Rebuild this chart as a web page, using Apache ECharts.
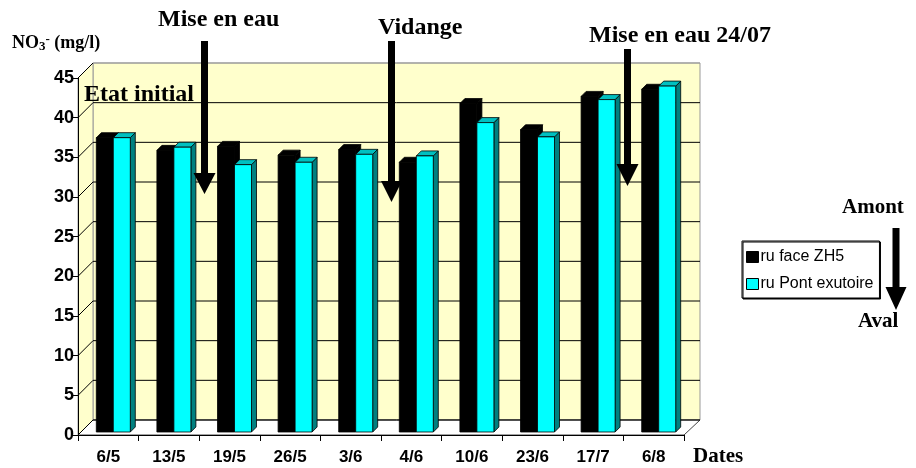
<!DOCTYPE html>
<html>
<head>
<meta charset="utf-8">
<script src="https://cdn.jsdelivr.net/npm/echarts@6/dist/echarts.min.js"></script>
<style>
  html, body { margin: 0; padding: 0; background: #fff; }
  #chart { width: 916px; height: 468px; }
</style>
</head>
<body>
<div id="chart"></div>
<script>
/* ---------------------------------------------------------------------- */
/*                 NO3- : ru face ZH5 / ru Pont exutoire                   */
/* ---------------------------------------------------------------------- */

var dates = ['6/5', '13/5', '19/5', '26/5', '3/6', '4/6', '10/6', '23/6', '17/7', '6/8'];
var faceZH5 = [37.1, 35.5, 36.0, 34.9, 35.6, 34.0, 41.4, 38.1, 42.3, 43.2];
var pontExutoire = [37.1, 35.9, 33.7, 34.0, 35.0, 34.8, 39.0, 37.2, 41.9, 43.6];
var yTicks = [0, 5, 10, 15, 20, 25, 30, 35, 40, 45];

var SANS = 'Liberation Sans, Arial, sans-serif';
var SERIF = 'Liberation Serif, Times New Roman, serif';
var DEPTH = 15;   // wall depth
var BAR_D = 5;    // bar depth
var BAR_W = 17;

var chart = echarts.init(document.getElementById('chart'));

var toPairs = function (arr) {
    return arr.map(function (v, i) { return [i, v]; });
};

// pseudo 3D column : front face, top face, side face
var makeBar = function (offset, front, topC, sideC) {
    return function (params, api) {
        var t = api.coord([api.value(0), api.value(1)]);
        var b = api.coord([api.value(0), 0]);
        var x0 = t[0] + offset, x1 = x0 + BAR_W, ty = t[1], by = b[1];
        var st = { stroke: '#000', lineWidth: 0.8 };
        return {
            type: 'group',
            children: [{
                type: 'polygon',
                shape: { points: [[x1, ty], [x1 + BAR_D, ty - BAR_D], [x1 + BAR_D, by - BAR_D], [x1, by]] },
                style: Object.assign({ fill: sideC }, st)
            }, {
                type: 'polygon',
                shape: { points: [[x0, ty], [x0 + BAR_D, ty - BAR_D], [x1 + BAR_D, ty - BAR_D], [x1, ty]] },
                style: Object.assign({ fill: topC }, st)
            }, {
                type: 'rect',
                shape: { x: x0, y: ty, width: BAR_W, height: by - ty },
                style: Object.assign({ fill: front }, st)
            }]
        };
    };
};

// back wall horizontal lines + diagonal lines on the left wall, one per tick
var renderWallLine = function (params, api) {
    var p = api.coord([0, api.value(0)]);
    var x = params.coordSys.x;
    var w = params.coordSys.width;
    var y = p[1] - DEPTH;
    var top = api.value(0) === 45;
    return {
        type: 'group',
        children: [{
            type: 'line',
            shape: { x1: x, y1: p[1], x2: x + DEPTH, y2: y },
            style: { stroke: '#000', lineWidth: 1 }
        }, {
            type: 'line',
            shape: { x1: x + DEPTH, y1: y, x2: x + DEPTH + w + 1, y2: y },
            style: { stroke: top ? '#999' : '#000', lineWidth: 1 }
        }]
    };
};

var arrow = function (x, y0, y1, shaftW, headW, headH) {
    var h = shaftW / 2, hw = headW / 2;
    return {
        type: 'polygon',
        z: 20,
        shape: {
            points: [[x - h, y0], [x + h, y0], [x + h, y1 - headH], [x + hw, y1 - headH],
                [x, y1], [x - hw, y1 - headH], [x - h, y1 - headH]]
        },
        style: { fill: '#000' }
    };
};

var label = function (txt, x, y, size) {
    return {
        type: 'text', z: 20, left: x, top: y,
        style: { text: txt, font: 'bold ' + size + 'px ' + SERIF, fill: '#000' }
    };
};

var option = {
    animation: false,
    backgroundColor: '#fff',
    grid: [
        // back wall
        { left: 93, right: 216, top: 63, bottom: 48, show: true, backgroundColor: '#ffffcc', borderColor: '#999', borderWidth: 1 },
        // front axes
        { left: 78, right: 232, top: 78, bottom: 33 },
        // columns
        { left: 83, right: 227, top: 75, bottom: 36 }
    ],
    xAxis: [
        { gridIndex: 0, type: 'category', data: dates, show: false },
        {
            gridIndex: 1, type: 'category', data: dates,
            axisLine: { lineStyle: { color: '#000', width: 1 } },
            axisTick: { show: true, length: 6, lineStyle: { color: '#000' } },
            axisLabel: { color: '#000', fontFamily: SANS, fontWeight: 'bold', fontSize: 17, margin: 14 }
        },
        { gridIndex: 2, type: 'category', data: dates, show: false }
    ],
    yAxis: [
        {
            gridIndex: 0, type: 'value', min: 0, max: 45, interval: 5, show: false,
            splitLine: { show: false }
        },
        {
            gridIndex: 1, type: 'value', min: 0, max: 45, interval: 5,
            axisLine: { show: true, lineStyle: { color: '#000', width: 1 } },
            axisTick: { show: true, length: 5, lineStyle: { color: '#000' } },
            splitLine: { show: false },
            axisLabel: { color: '#000', fontFamily: SANS, fontWeight: 'bold', fontSize: 18, margin: 4 }
        },
        { gridIndex: 2, type: 'value', min: 0, max: 45, interval: 5, show: false, splitLine: { show: false } }
    ],
    legend: {
        orient: 'vertical',
        left: 742,
        top: 241,
        width: 143,
        padding: [8, 6, 6, 4],
        itemGap: 11,
        itemWidth: 12,
        itemHeight: 11,
        backgroundColor: '#fff',
        borderColor: '#000',
        borderWidth: 1,
        shadowColor: '#000',
        shadowBlur: 0,
        shadowOffsetX: 1,
        shadowOffsetY: 1,
        textStyle: { fontFamily: SANS, fontSize: 16, color: '#000', padding: [0, 0, 0, -3] },
        data: [
            { name: 'ru face ZH5', icon: 'rect', itemStyle: { color: '#000', borderColor: '#000', borderWidth: 1 } },
            { name: 'ru Pont exutoire', icon: 'rect', itemStyle: { color: '#00ffff', borderColor: '#000', borderWidth: 1 } }
        ]
    },
    graphic: [
        // left wall
        {
            type: 'polygon', z: 0,
            shape: { points: [[78, 78], [93, 63], [93, 420], [78, 435]] },
            style: { fill: '#ffffcc', stroke: '#999', lineWidth: 1 }
        },
        // floor
        {
            type: 'polygon', z: 0,
            shape: { points: [[78, 435], [93, 420], [700, 420], [684, 435]] },
            style: { fill: '#fff', stroke: '#444', lineWidth: 1 }
        },
        {
            type: 'text', z: 20, left: 12, top: 33,
            style: {
                text: '{a|NO}{s|3}{p|-}{a| (mg/l)}',
                rich: {
                    a: { font: 'bold 18px ' + SERIF, fill: '#000' },
                    s: { font: 'bold 13px ' + SERIF, fill: '#000', verticalAlign: 'bottom', padding: [7, 0, 0, 0] },
                    p: { font: 'bold 13px ' + SERIF, fill: '#000', verticalAlign: 'top', padding: [0, 0, 7, 0] }
                }
            }
        },
        label('Mise en eau', 158, 8, 24),
        label('Vidange', 378, 16, 24),
        label('Mise en eau 24/07', 589, 24, 24),
        label('Etat initial', 84, 83, 24),
        label('Amont', 842, 197, 21),
        label('Aval', 858, 311, 21),
        label('Dates', 693, 446, 21),
        arrow(204.5, 41, 194, 7, 22, 21),
        arrow(391.5, 41, 202, 7, 21, 21),
        arrow(627.5, 49, 186, 7, 22, 22),
        arrow(896, 228, 310, 7, 21, 23)
    ],
    series: [
        {
            type: 'custom', name: 'wall', xAxisIndex: 1, yAxisIndex: 1, silent: true,
            data: yTicks.map(function (v) { return [v]; }),
            encode: { y: 0 },
            renderItem: renderWallLine, z: 1
        },
        {
            type: 'custom', name: 'ru face ZH5', xAxisIndex: 2, yAxisIndex: 2,
            data: toPairs(faceZH5), encode: { x: 0, y: 1 },
            itemStyle: { color: '#000' },
            renderItem: makeBar(-BAR_W, '#000', '#000', '#000'), z: 3
        },
        {
            type: 'custom', name: 'ru Pont exutoire', xAxisIndex: 2, yAxisIndex: 2,
            data: toPairs(pontExutoire), encode: { x: 0, y: 1 },
            itemStyle: { color: '#00ffff' },
            renderItem: makeBar(0, '#00ffff', '#00c0c0', '#008080'), z: 4
        }
    ]
};

chart.setOption(option);
</script>
</body>
</html>
